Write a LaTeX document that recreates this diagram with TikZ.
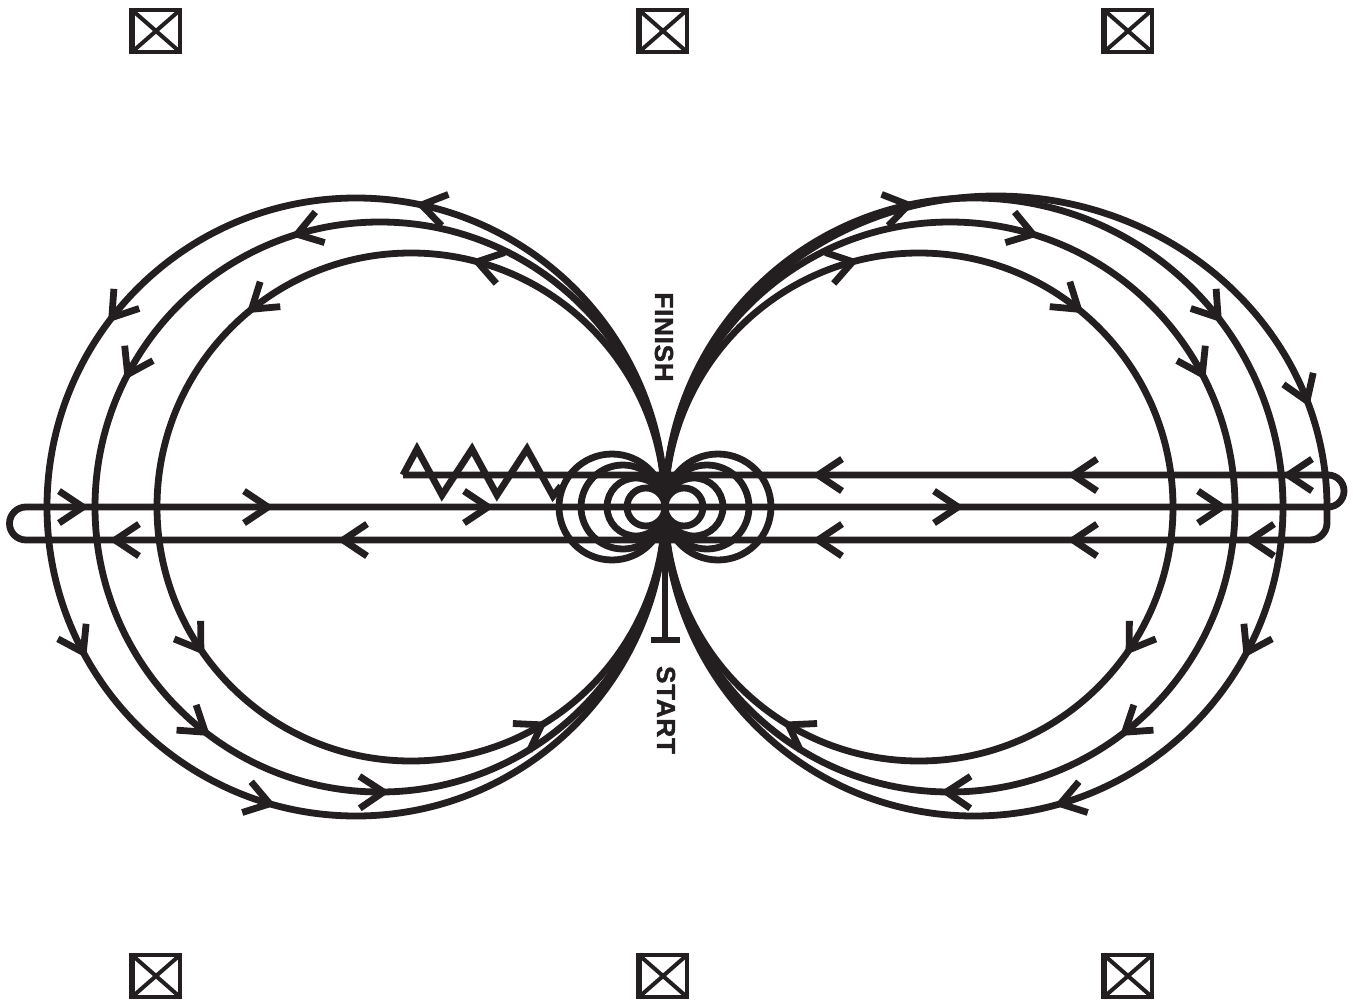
\documentclass[tikz,border=0pt]{standalone}
\usepackage{fontspec}
\newfontfamily\lblfont[LetterSpace=3, FakeBold=1.6]{Liberation Sans Bold}
\usetikzlibrary{decorations.markings}
\definecolor{ink}{HTML}{231F20}
\tikzset{
  trk/.style={draw=ink, line width=6.8pt, line join=miter},
  chevline/.style={draw=ink, line width=6.8pt, line join=miter, line cap=butt},
  chv/.style={postaction={decorate, decoration={markings,
      mark=at position #1 with {\draw[chevline] (-24,-16) -- (0,0) -- (-24,16);}}}},
  chevp/.pic={\draw[chevline] (-24,-16) -- (0,0) -- (-24,16);},
  xbox/.pic={\draw[draw=ink, line width=4.5pt] (-24,-21) rectangle (24,21);
             \draw[draw=ink, line width=4pt] (-24,-21) -- (24,21) (-24,21) -- (24,-21);
             \draw[draw=ink, line width=6pt] (-24.5,-23) -- (-24.5,23);},
  lbl/.style={text=ink, rotate=-90, font=\lblfont\fontsize{26}{26}\selectfont, inner sep=0pt}
}
\begin{document}
\begin{tikzpicture}[x=1pt,y=-1pt]
\useasboundingbox (0,0) rectangle (1353,1001);
\fill[white] (0,0) rectangle (1353,1001);

% corner markers
\pic at (156,31) {xbox};
\pic at (663,31) {xbox};
\pic at (1128,31) {xbox};
\pic at (156,976) {xbox};
\pic at (663,976) {xbox};
\pic at (1128,976) {xbox};

\coordinate (c) at (665,507);

% left loops (counterclockwise on screen)
\draw[trk, chv=0.216, chv=0.395, chv=0.578, chv=0.705] (c) arc[start angle=0, end angle=-360, radius=309];
\draw[trk, chv=0.297, chv=0.423, chv=0.645, chv=0.752] (c) arc[start angle=0, end angle=-360, radius=285];
\draw[trk, chv=0.208, chv=0.358, chv=0.595, chv=0.836] (c) arc[start angle=0, end angle=-360, radius=254];

% right loops (clockwise on screen)
\draw[trk, chv=0.216, chv=0.395, chv=0.578, chv=0.705] (c) arc[start angle=180, end angle=540, radius=309];
\draw[trk, chv=0.297, chv=0.423, chv=0.645, chv=0.752] (c) arc[start angle=180, end angle=540, radius=285];
\draw[trk, chv=0.208, chv=0.358, chv=0.595, chv=0.836] (c) arc[start angle=180, end angle=540, radius=254];

% outer right half-loop into the horizontal runs
\draw[trk] (c) arc[start angle=180, end angle=360, x radius=331, y radius=311]
   -- (1327,523) arc[start angle=0, end angle=90, radius=17]
   -- (26,540) arc[start angle=90, end angle=270, radius=16.5]
   -- (1328,507) arc[start angle=90, end angle=-90, radius=16]
   -- (403,475);
\pic[rotate=-68.8] at (1307,401) {chevp};

% arrows on the horizontal runs
\foreach \x in {83,268,488,958,1222} \pic at (\x,507) {chevp};
\foreach \x in {818,1073,1288} \pic[rotate=180] at (\x,475) {chevp};
\foreach \x in {115,343,818,1073,1250} \pic[rotate=180] at (\x,540) {chevp};

% zigzag
\draw[trk] (403,475) -- (417,449) -- (442,495) -- (472,449) -- (497,495) -- (527,449) -- (553,496) -- (561,486);

% rolls at the centre
\foreach \r in {19,29,42,53} {
  \draw[trk] (c) ++(-\r,0) circle[radius=\r];
  \draw[trk] (c) ++(\r,0) circle[radius=\r];
}

% start marker
\draw[trk] (665,548) -- (665,640);
\draw[trk] (651,640) -- (680,640);

\node[lbl] (fin) at (664,337) {FINISH};
\node[lbl] (st) at (666,710) {START};
\end{tikzpicture}
\end{document}
